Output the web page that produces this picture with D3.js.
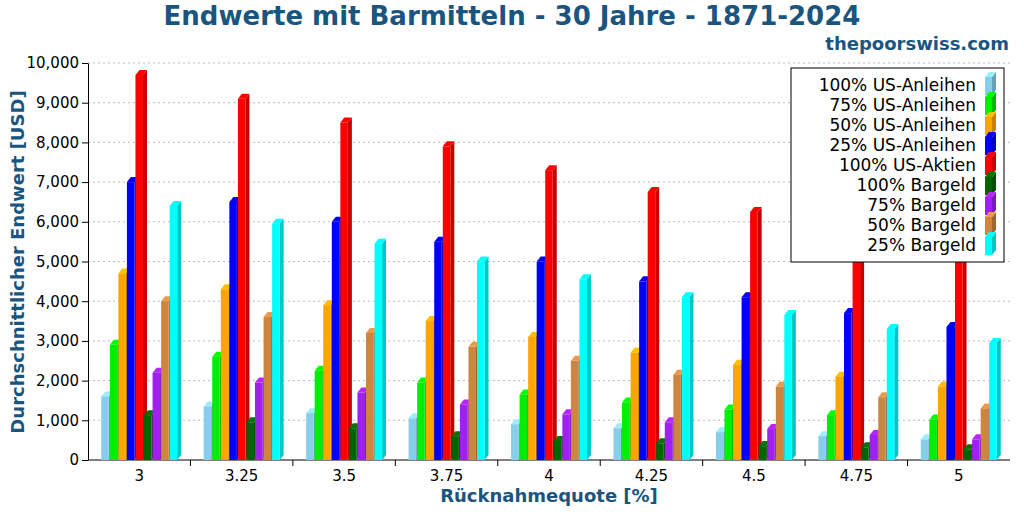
<!DOCTYPE html><html><head><meta charset="utf-8"><script src="https://cdn.jsdelivr.net/npm/d3@7"></script>
<style>body{margin:0;background:#fff}text{font-family:"DejaVu Sans",sans-serif}</style></head><body><svg width="1024" height="512"></svg><script>
const categories=["3","3.25","3.5","3.75","4","4.25","4.5","4.75","5"];
const seriesNames=["100% US-Anleihen","75% US-Anleihen","50% US-Anleihen","25% US-Anleihen","100% US-Aktien","100% Bargeld","75% Bargeld","50% Bargeld","25% Bargeld"];
const colors=["#87ceeb","#00ee00","#ffa500","#0000ff","#ff0000","#006400","#a020f0","#cd853f","#00ffff"];
const s1=[1600,1350,1180,1050,900,800,700,600,520];
const s2=[2900,2600,2250,1950,1650,1450,1270,1130,1020];
const s3=[4700,4300,3900,3500,3100,2700,2400,2100,1850];
const s4=[7000,6500,6000,5500,5000,4500,4100,3700,3350];
const s5=[9700,9100,8500,7900,7300,6750,6250,5700,5200];
const s6=[1130,950,800,600,480,420,350,320,270];
const s7=[2200,1950,1700,1400,1150,950,780,630,520];
const s8=[4000,3600,3200,2850,2500,2150,1850,1580,1300];
const s9=[6400,5950,5450,5000,4550,4100,3650,3300,2950];
const series=[s1,s2,s3,s4,s5,s6,s7,s8,s9];
const yTicks=d3.range(0,10001,1000);
const svg=d3.select("svg");
const L=88,R=1010,T=63,B=460;
const x=d3.scaleBand().domain(categories).range([L,R]);
const xi=d3.scaleBand().domain(seriesNames).range([0,x.bandwidth()]).paddingOuter(1.55).paddingInner(0.12);
const y=d3.scaleLinear().domain([0,10000]).range([B,T]);
const tc="#1a5580";
svg.append("text").attr("x",512).attr("y",25).attr("text-anchor","middle").attr("font-size",26).attr("font-weight","bold").attr("fill",tc).text("Endwerte mit Barmitteln - 30 Jahre - 1871-2024");
svg.append("text").attr("x",1009).attr("y",50).attr("text-anchor","end").attr("font-size",18).attr("font-weight","bold").attr("fill",tc).text("thepoorswiss.com");
// grid
svg.append("g").selectAll("line").data(yTicks.slice(1)).join("line").attr("x1",L).attr("x2",R).attr("y1",d=>y(d)).attr("y2",d=>y(d)).attr("stroke","#bbb").attr("stroke-dasharray","2,3");
svg.append("g").attr("transform",`translate(${L},0)`).call(d3.axisLeft(y).tickValues(yTicks).tickSizeOuter(0)).call(g=>g.selectAll("text").attr("font-size",15).attr("fill","#000"));
const xa=svg.append("g").attr("transform",`translate(0,${B})`).call(d3.axisBottom(x).tickSize(0).tickPadding(10));
xa.selectAll("text").attr("font-size",15).attr("fill","#000");
xa.select(".domain").attr("d",`M${L},0H${R}`);
xa.selectAll("line.b").data(categories.slice(1)).join("line").attr("class","b").attr("x1",d=>x(d)).attr("x2",d=>x(d)).attr("y1",0).attr("y2",6).attr("stroke","#000");
svg.append("text").attr("transform","translate(24,262) rotate(-90)").attr("text-anchor","middle").attr("font-size",18).attr("font-weight","bold").attr("fill",tc).text("Durchschnittlicher Endwert [USD]");
svg.append("text").attr("x",549).attr("y",502).attr("text-anchor","middle").attr("font-size",18).attr("font-weight","bold").attr("fill",tc).text("Rücknahmequote [%]");
const dx=4,dy=5;
function bar3d(g,x0,w,yt,yb,c){
  const col=d3.color(c);
  g.append("path").attr("d",`M${x0+w},${yt}l${dx},${-dy}V${yb-dy}l${-dx},${dy}Z`).attr("fill",col.darker(0.7));
  g.append("path").attr("d",`M${x0},${yt}l${dx},${-dy}h${w}l${-dx},${dy}Z`).attr("fill",col.brighter(0.4));
  g.append("rect").attr("x",x0).attr("y",yt).attr("width",w).attr("height",yb-yt).attr("fill",c);
}
const bars=svg.append("g");
categories.forEach((c,ci)=>{series.forEach((s,si)=>{bar3d(bars,x(c)+xi(seriesNames[si]),xi.bandwidth(),y(s[ci]),B,colors[si]);});});
// legend
const lg=svg.append("g");
lg.append("rect").attr("x",791).attr("y",68).attr("width",213).attr("height",194).attr("fill","#fff").attr("stroke","#000");
seriesNames.forEach((n,i)=>{const yy=85+i*20;
  lg.append("text").attr("x",976).attr("y",yy+6).attr("text-anchor","end").attr("font-size",17).text(n);
  bar3d(lg,985,7,yy-8,yy+10,colors[i]);});
</script></body></html>
